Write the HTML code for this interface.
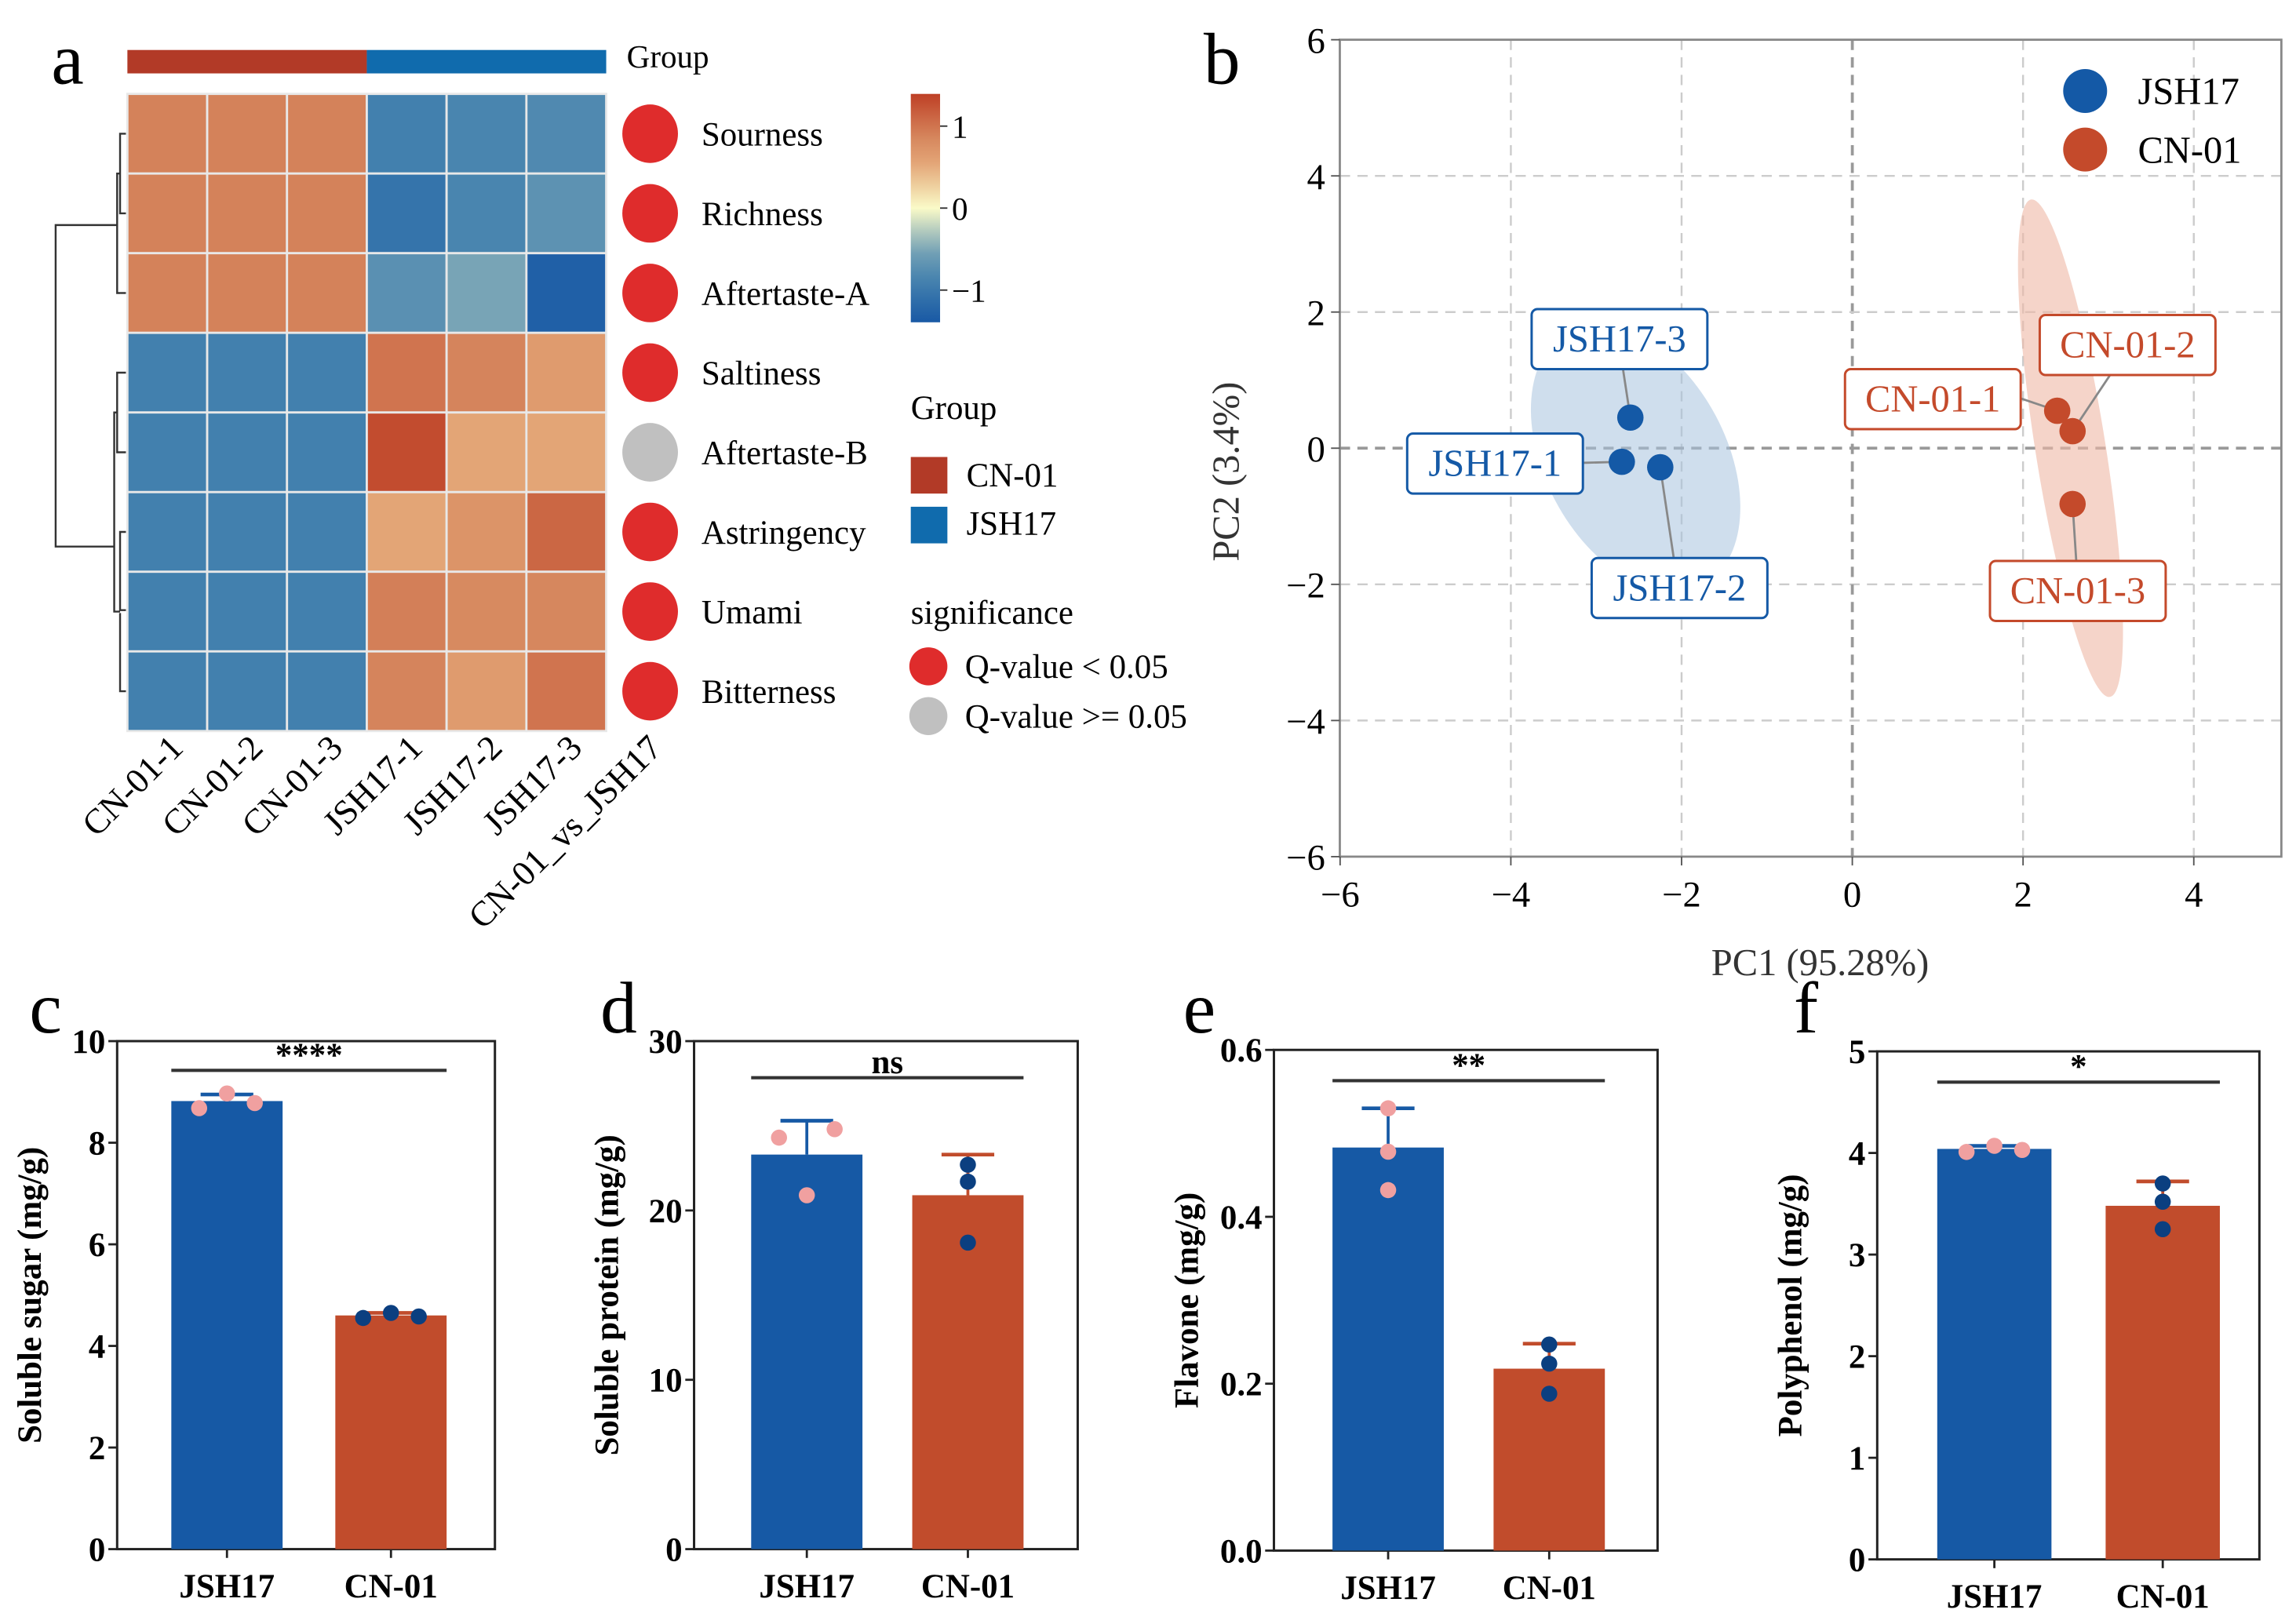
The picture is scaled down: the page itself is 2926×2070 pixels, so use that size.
<!DOCTYPE html>
<html><head><meta charset="utf-8"><style>
html,body{margin:0;padding:0;background:#fff;}
svg{display:block;}
text{font-family:"Liberation Serif","Times New Roman",serif;}
</style></head><body>
<svg id="fig" width="2926" height="2070" viewBox="0 0 1568 1109" xmlns="http://www.w3.org/2000/svg" font-family="Liberation Serif, serif">
<g id="pa"></g>
<g id="pb"></g>
<g id="pc"></g>
<g id="pd"></g>
<g id="pe"></g>
<g id="pf"></g>
</svg>
<script>
// ---------- data ----------
const heatCols = ["CN-01-1","CN-01-2","CN-01-3","JSH17-1","JSH17-2","JSH17-3"];
const heatRows = ["Sourness","Richness","Aftertaste-A","Saltiness","Aftertaste-B","Astringency","Umami","Bitterness"];
const heatValues = [
 [0.9,0.9,0.9,-0.9,-0.85,-0.8],
 [0.9,0.9,0.9,-1.05,-0.85,-0.7],
 [0.9,0.9,0.9,-0.72,-0.5,-1.3],
 [-0.9,-0.9,-0.9,1.0,0.88,0.65],
 [-0.9,-0.9,-0.9,1.3,0.55,0.55],
 [-0.9,-0.9,-0.9,0.55,0.72,1.1],
 [-0.9,-0.9,-0.9,0.92,0.82,0.85],
 [-0.9,-0.9,-0.9,0.88,0.65,1.0]];
const heatSig = [1,1,1,1,0,1,1,1];
const cbTicks = [1,0,-1];

const pcaLabels = ["JSH17-3","JSH17-1","JSH17-2","CN-01-1","CN-01-2","CN-01-3"];
const pcaGroup = ["JSH17","JSH17","JSH17","CN-01","CN-01","CN-01"];
const pcaX = [-2.6,-2.7,-2.25,2.4,2.58,2.58];
const pcaY = [0.45,-0.2,-0.28,0.55,0.25,-0.82];
const pcaTicks = [-6,-4,-2,0,2,4,6];

const barCats = ["JSH17","CN-01"];
const sugarMean=[8.82,4.6], sugarErr=[8.95,4.65], sugarPts=[[8.68,8.97,8.78],[4.55,4.65,4.58]];
const proteinMean=[23.3,20.9], proteinErr=[25.3,23.3], proteinPts=[[24.3,20.9,24.8],[22.7,21.7,18.1]];
const flavoneMean=[0.483,0.218], flavoneErr=[0.53,0.248], flavonePts=[[0.53,0.478,0.432],[0.247,0.224,0.188]];
const polyMean=[4.04,3.48], polyErr=[4.07,3.72], polyPts=[[4.01,4.07,4.03],[3.7,3.52,3.25]];

// ---------- helpers ----------
const NS="http://www.w3.org/2000/svg";
function mk(parent,tag,attrs,text){const e=document.createElementNS(NS,tag);for(const k in attrs)e.setAttribute(k,attrs[k]);if(text!==undefined)e.textContent=text;parent.appendChild(e);return e;}
const stops=[[-1.4,[24,88,165]],[-0.9,[66,128,174]],[-0.5,[120,164,182]],[0,[250,250,200]],[0.5,[229,170,122]],[0.9,[212,130,90]],[1.4,[190,62,36]]];
function hcol(v){for(let i=0;i<stops.length-1;i++){const a=stops[i],b=stops[i+1];if(v<=b[0]){const t=Math.max(0,(v-a[0])/(b[0]-a[0]));return "rgb("+a[1].map((c,j)=>Math.round(c+(b[1][j]-c)*t)).join(",")+")";}}return "rgb(190,62,36)";}

// ---------- panel a ----------
(function(){
const g=document.getElementById('pa');
let t=mk(g,'text',{x:35,y:57,'font-size':50});t.textContent='a';

const x0=87,y0=64,cw=54.5,rh=54.4;
let r=mk(g,'rect',{x:x0,y:34,width:cw*3,height:16,fill:'#b23a27'});

r=mk(g,'rect',{x:x0+cw*3,y:34,width:cw*3,height:16,fill:'#106bad'});

mk(g,'text',{x:428,y:46,'font-size':22},'Group');
heatValues.forEach((row,i)=>{row.forEach((v,j)=>{
 const c=mk(g,'rect',{x:x0+j*cw,y:y0+i*rh,width:cw,height:rh,fill:hcol(v),stroke:'#e8e8e8','stroke-width':1.5});
 
});
 const cy=y0+(i+0.5)*rh;
 const d=mk(g,'ellipse',{cx:444,cy:cy,rx:19,ry:20,fill:heatSig[i]?'#df2c2c':'#c0c0c0'});
 
 const l=mk(g,'text',{x:479,y:cy+8,'font-size':23},heatRows[i]);
 
});
heatCols.concat(["CN-01_vs_JSH17"]).forEach((c,j)=>{
 const x=x0+(j+0.5)*cw+12,y=512;
 const l=mk(g,'text',{x:x,y:y,'font-size':24,'text-anchor':'end',transform:`rotate(-45 ${x} ${y})`},c);
 
});
const ry=i=>y0+(i+0.5)*rh;
const dg=mk(g,'g',{stroke:'#333','stroke-width':1.3,fill:'none'});

const p=[
 `M86 ${ry(0)}H82V${ry(1)}H86`,`M86 ${ry(2)}H82`,`M82 ${(ry(0)+ry(1))/2}H80V${ry(2)}H82`,
 `M86 ${ry(3)}H80V${ry(4)}H86`,`M86 ${ry(5)}H82V${ry(6)-1}H86`,`M86 ${ry(7)}H82V${ry(6)+1}`,
 `M80 ${(ry(3)+ry(4))/2}H78V${ry(6)}H82`,
 `M80 ${(ry(0)+ry(2))/2+8}H38V${(ry(3)+ry(7))/2+10}H78`];
p.forEach(s=>mk(dg,'path',{d:s}));
const grad=mk(g,'linearGradient',{id:'cbg',x1:0,y1:0,x2:0,y2:1});
for(let k=0;k<=10;k++){const v=1.39-2.78*k/10;mk(grad,'stop',{offset:(k*10)+'%','stop-color':hcol(v)});}
r=mk(g,'rect',{x:622,y:64,width:20,height:156,fill:'url(#cbg)'});

cbTicks.forEach(v=>{const y=142-56*v;mk(g,'line',{x1:642,x2:647,y1:y,y2:y,stroke:'#333'});
 mk(g,'text',{x:650,y:y+8,'font-size':22},v<0?'\u2212'+Math.abs(v):String(v));});
mk(g,'text',{x:622,y:286,'font-size':23},'Group');
mk(g,'rect',{x:622,y:312,width:25,height:25,fill:'#b23a27'});mk(g,'text',{x:660,y:332,'font-size':23},'CN-01');
mk(g,'rect',{x:622,y:346,width:25,height:25,fill:'#106bad'});mk(g,'text',{x:660,y:365,'font-size':23},'JSH17');
mk(g,'text',{x:622,y:426,'font-size':23},'significance');
mk(g,'circle',{cx:634,cy:455,r:13,fill:'#df2c2c'});mk(g,'text',{x:659,y:463,'font-size':23},'Q-value < 0.05');
mk(g,'circle',{cx:634,cy:489,r:13,fill:'#c0c0c0'});mk(g,'text',{x:659,y:497,'font-size':23},'Q-value >= 0.05');
})();

// ---------- panel b ----------
(function(){
const g=document.getElementById('pb');
let t=mk(g,'text',{x:822,y:57,'font-size':50},'b');

const L=915,R=1558,T=27,B=585;
const sx=v=>1265+58.3*v, sy=v=>306-46.5*v;
pcaTicks.forEach(v=>{
 if(v>-6&&v<6){const x=sx(v);if(x<R)mk(g,'line',{x1:x,x2:x,y1:T,y2:B,stroke:v===0?'#999':'#ccc','stroke-width':v===0?2:1.3,'stroke-dasharray':'7 5'});
 const y=sy(v);mk(g,'line',{x1:L,x2:R,y1:y,y2:y,stroke:v===0?'#999':'#ccc','stroke-width':v===0?2:1.3,'stroke-dasharray':'7 5'});}
});
const fr=mk(g,'rect',{x:L,y:T,width:R-L,height:B-T,fill:'none',stroke:'#888','stroke-width':1.5});

pcaTicks.forEach(v=>{
 const lab=v<0?'\u2212'+Math.abs(v):String(v);
 const x=sx(v);if(x<=R){mk(g,'line',{x1:x,x2:x,y1:B,y2:B+6,stroke:'#555'});
 const tx=mk(g,'text',{x:x,y:B+34,'font-size':25,'text-anchor':'middle'},lab);}
 const y=sy(v);mk(g,'line',{x1:L-6,x2:L,y1:y,y2:y,stroke:'#555'});
 const ty=mk(g,'text',{x:L-10,y:y+9,'font-size':25,'text-anchor':'end'},lab);
});
let a=mk(g,'text',{x:1243,y:666,'font-size':26,'text-anchor':'middle',fill:'#333'},'PC1 (95.28%)');

a=mk(g,'text',{x:846,y:322,'font-size':26,'text-anchor':'middle',fill:'#333',transform:'rotate(-90 846 322)'},'PC2 (3.4%)');

let e=mk(g,'ellipse',{cx:1117,cy:313,rx:62,ry:98,fill:'#a7c3df','fill-opacity':0.55,transform:'rotate(-28 1117 313)'});

e=mk(g,'ellipse',{cx:1414,cy:306,rx:24,ry:172,fill:'#efb7a5','fill-opacity':0.6,transform:'rotate(-9 1414 306)'});

const boxes=[[1106,231],[1021,316],[1147,401],[1320,272],[1453,235],[1419,403]];
pcaX.forEach((v,i)=>{
 const col=pcaGroup[i]==='JSH17'?'#1459a6':'#c44a2b';
 const px=sx(v),py=sy(pcaY[i]);const [bx,by]=boxes[i];
 const ex=Math.abs(bx-px)>Math.abs(by-py)?(bx>px?bx-60:bx+60):bx+(px-bx)*0.3;
 const ey=Math.abs(bx-px)>Math.abs(by-py)?by:(by>py?by-20:by+20);
 mk(g,'line',{x1:px,y1:py,x2:ex,y2:ey,stroke:'#888','stroke-width':1.5});
 const b=mk(g,'rect',{x:bx-60,y:by-20,width:120,height:41,rx:4,fill:'#fff',stroke:col,'stroke-width':1.6});
 
 mk(g,'text',{x:bx,y:by+9,'font-size':26,'text-anchor':'middle',fill:col},pcaLabels[i]);
});
pcaX.forEach((v,i)=>{
 const c=mk(g,'circle',{cx:sx(v),cy:sy(pcaY[i]),r:9,fill:pcaGroup[i]==='JSH17'?'#1459a6':'#c44a2b'});
 
});
let lg=mk(g,'circle',{cx:1424,cy:62,r:15,fill:'#1459a6'});
mk(g,'text',{x:1460,y:71,'font-size':26},'JSH17');
lg=mk(g,'circle',{cx:1424,cy:102,r:15,fill:'#c44a2b'});
mk(g,'text',{x:1460,y:111,'font-size':26},'CN-01');
})();

// ---------- bar panels ----------
function barPanel(id,letter,lx,ly,L,R,Y0,Ytop,vmax,ticks,means,errs,pts,ytitle,sig,sigY,b1,b2,bw,tickFmt,spread){
 const g=document.getElementById(id);
 let t=mk(g,'text',{x:lx,y:ly,'font-size':50},letter);
 
 const sy=v=>Y0-(Y0-Ytop)*v/vmax;
 const fr=mk(g,'rect',{x:L,y:Ytop,width:R-L,height:Y0-Ytop,fill:'none',stroke:'#222','stroke-width':1.6});
 
 ticks.forEach(v=>{const y=sy(v);mk(g,'line',{x1:L-6,x2:L,y1:y,y2:y,stroke:'#222','stroke-width':1.5});
  const tl=mk(g,'text',{x:L-8,y:y+8,'font-size':23,'font-weight':'bold','text-anchor':'end'},tickFmt(v));
  });
 const xs=[b1,b2],fills=['#1659a5','#c14c2c'],ptc=['#f0a0a0','#0b3f80'];
 means.forEach((m,i)=>{
  const cx=xs[i];
  mk(g,'line',{x1:cx,x2:cx,y1:sy(m),y2:sy(errs[i]),stroke:fills[i],'stroke-width':2});
  mk(g,'line',{x1:cx-18,x2:cx+18,y1:sy(errs[i]),y2:sy(errs[i]),stroke:fills[i],'stroke-width':2.5});
  const b=mk(g,'rect',{x:cx-bw/2,y:sy(m),width:bw,height:Y0-sy(m),fill:fills[i]});
  
  pts[i].forEach((p,k)=>{const c=mk(g,'circle',{cx:cx+(spread[i]?(k-1)*19:0),cy:sy(p),r:5.5,fill:ptc[i]});
   });
  mk(g,'line',{x1:cx,x2:cx,y1:Y0,y2:Y0+6,stroke:'#222','stroke-width':1.5});
  const xl=mk(g,'text',{x:cx,y:Y0+33,'font-size':23,'font-weight':'bold','text-anchor':'middle'},barCats[i]);
  
 });
 mk(g,'line',{x1:b1-bw/2,x2:b2+bw/2,y1:sigY,y2:sigY,stroke:'#333','stroke-width':2.2});
 const s=mk(g,'text',{x:(b1+b2)/2,y:sigY-3,'font-size':23,'font-weight':'bold','text-anchor':'middle'},sig);
 
 const tx=L-52,ty=(Y0+Ytop)/2;
 const yt=mk(g,'text',{x:tx,y:ty,'font-size':23,'font-weight':'bold','text-anchor':'middle',transform:`rotate(-90 ${tx} ${ty})`},ytitle);
 
}
barPanel('pc','c',20,705,80,338,1058,711,10,[0,2,4,6,8,10],sugarMean,sugarErr,sugarPts,'Soluble sugar (mg/g)','****',731,155,267,76,v=>String(v),[1,1]);
barPanel('pd','d',410,705,474,736,1058,711,30,[0,10,20,30],proteinMean,proteinErr,proteinPts,'Soluble protein (mg/g)','ns',736,551,661,76,v=>String(v),[1,0]);
barPanel('pe','e',808,705,870,1132,1059,717,0.6,[0,0.2,0.4,0.6],flavoneMean,flavoneErr,flavonePts,'Flavone (mg/g)','**',738,948,1058,76,v=>v.toFixed(1),[0,0]);
barPanel('pf','f',1225,705,1282,1543,1065,718,5,[0,1,2,3,4,5],polyMean,polyErr,polyPts,'Polyphenol (mg/g)','*',739,1362,1477,78,v=>String(v),[1,0]);
</script>
</body></html>
